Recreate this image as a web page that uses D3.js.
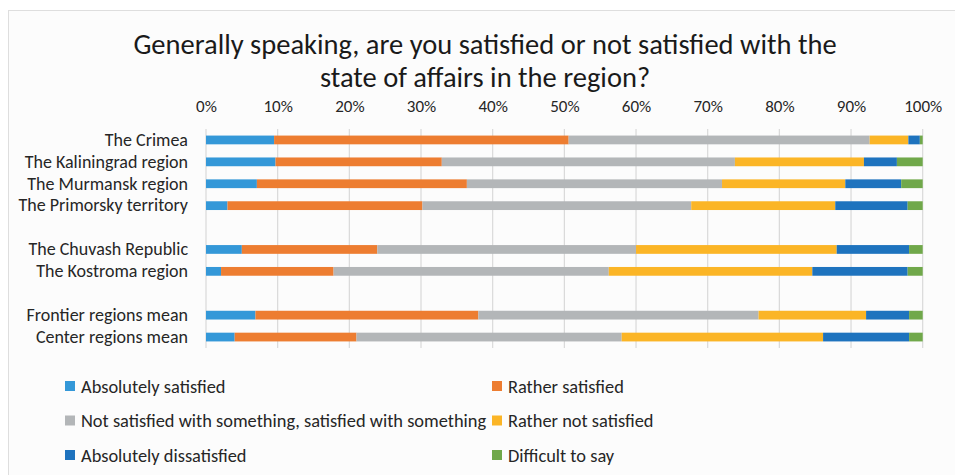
<!DOCTYPE html>
<html>
<head>
<meta charset="utf-8">
<script src="https://cdn.jsdelivr.net/npm/d3@7"></script>
<style>
  html, body { margin: 0; padding: 0; background: #ffffff; }
  svg { display: block; }
  text { font-family: "Carlito", "Lato", "Open Sans", sans-serif; fill: #262626; }
</style>
</head>
<body>
<svg id="chart" width="955" height="475"></svg>
<script>
// Survey regions, in display order, and the block each one belongs to
const regions = [
  "The Crimea",
  "The Kaliningrad region",
  "The Murmansk region",
  "The Primorsky territory",
  "The Chuvash Republic",
  "The Kostroma region",
  "Frontier regions mean",
  "Center regions mean"
];
const regionGroups = [0, 0, 0, 0, 1, 1, 2, 2];

// Answer options (legend order) and their colours
const answers = [
  "Absolutely satisfied",
  "Rather satisfied",
  "Not satisfied with something, satisfied with something",
  "Rather not satisfied",
  "Absolutely dissatisfied",
  "Difficult to say"
];
const answerColors = ["#3498d8", "#ed7d31", "#b3b6b8", "#fbb526", "#1e73be", "#70a84a"];

// Shares of respondents, % (one value per region)
const absolutelySatisfied    = [9.5, 9.7, 7.1, 3.0, 5.0, 2.1, 6.9, 4.0];
const ratherSatisfied        = [41.1, 23.2, 29.3, 27.2, 18.9, 15.7, 31.1, 17.0];
const partlySatisfied        = [42.0, 40.9, 35.6, 37.5, 36.1, 38.4, 39.1, 37.0];
const ratherNotSatisfied     = [5.4, 18.0, 17.2, 20.1, 28.0, 28.4, 15.0, 28.1];
const absolutelyDissatisfied = [1.6, 4.6, 7.8, 10.1, 10.1, 13.3, 6.0, 12.0];
const difficultToSay         = [0.4, 3.6, 3.0, 2.1, 1.9, 2.1, 1.9, 1.9];

// Axis ticks
const xTicks = [0, 10, 20, 30, 40, 50, 60, 70, 80, 90, 100];

const titleLines = [
  "Generally speaking, are you satisfied or not satisfied with the",
  "state of affairs in the region?"
];

// ---- build table -------------------------------------------------------
const seriesValues = [absolutelySatisfied, ratherSatisfied, partlySatisfied,
                      ratherNotSatisfied, absolutelyDissatisfied, difficultToSay];
const rows = regions.map((name, i) => {
  const r = { region: name };
  answers.forEach((a, k) => { r[a] = seriesValues[k][i]; });
  return r;
});

// band domain: regions with an empty slot between blocks
const bandDomain = [];
regions.forEach((name, i) => {
  if (i > 0 && regionGroups[i] !== regionGroups[i - 1]) bandDomain.push("__gap" + i);
  bandDomain.push(name);
});

const svg = d3.select("#chart");

// chart frame
svg.append("rect")
  .attr("x", 8.5).attr("y", 10.5)
  .attr("width", 960).attr("height", 480)
  .attr("fill", "#fcfcfc")
  .attr("stroke", "#dedede");

const x = d3.scaleLinear().domain([0, 100]).range([206, 922.7]);
const y = d3.scaleBand().domain(bandDomain).range([129, 348])
  .paddingInner(0.6).paddingOuter(0.3);
const color = d3.scaleOrdinal().domain(answers).range(answerColors);

// title
svg.append("g").selectAll("text")
  .data(titleLines)
  .join("text")
  .attr("x", 485)
  .attr("y", (d, i) => 54 + i * 33)
  .attr("text-anchor", "middle")
  .style("font-size", "28.5px")
  .style("fill", "#1a1a1a")
  .text(d => d);

// gridlines
svg.append("g")
  .selectAll("line")
  .data(xTicks)
  .join("line")
  .attr("x1", d => x(d)).attr("x2", d => x(d))
  .attr("y1", 129).attr("y2", 348)
  .attr("stroke", "#d9d9d9")
  .attr("stroke-width", 1.2);

// top axis labels
const xAxis = d3.axisTop(x).tickValues(xTicks).tickFormat(d => d + "%").tickSize(0).tickPadding(0);
const axisG = svg.append("g").attr("transform", "translate(0,112)").call(xAxis);
axisG.select(".domain").remove();
axisG.selectAll("text")
  .attr("dy", 0)
  .style("font-size", "17px")
  .style("font-family", "'Carlito','Lato','Open Sans',sans-serif")
  .style("fill", "#262626");

// stacked bars
const stacked = d3.stack().keys(answers)(rows);
svg.append("g")
  .selectAll("g")
  .data(stacked)
  .join("g")
  .attr("fill", d => color(d.key))
  .selectAll("rect")
  .data(d => d)
  .join("rect")
  .attr("x", d => x(d[0]))
  .attr("width", d => x(d[1]) - x(d[0]))
  .attr("y", d => y(d.data.region))
  .attr("height", y.bandwidth());

// category labels
const yAxis = d3.axisLeft(y).tickValues(regions).tickSize(0).tickPadding(0);
const yAxisG = svg.append("g").attr("transform", "translate(188,0)").call(yAxis);
yAxisG.select(".domain").remove();
yAxisG.selectAll("text")
  .style("font-size", "18px")
  .style("font-family", "'Carlito','Lato','Open Sans',sans-serif")
  .style("fill", "#262626");

// legend: two columns, three rows
const legend = svg.append("g")
  .selectAll("g")
  .data(answers)
  .join("g")
  .attr("transform", (d, i) => `translate(${i % 2 === 0 ? 65 : 492},${386 + Math.floor(i / 2) * 34.5})`);
legend.append("rect")
  .attr("x", 0).attr("y", -5)
  .attr("width", 10).attr("height", 10)
  .attr("fill", d => color(d));
legend.append("text")
  .attr("x", 16)
  .attr("y", 6.5)
  .style("font-size", "18.4px")
  .text(d => d);
</script>
</body>
</html>
